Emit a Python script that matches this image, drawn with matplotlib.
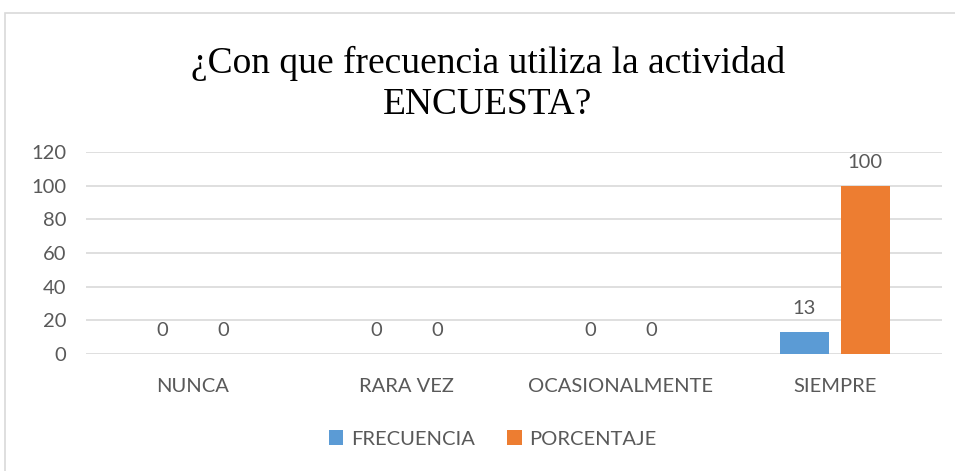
import matplotlib
matplotlib.use('Agg')
import matplotlib.pyplot as plt
from matplotlib.patches import Rectangle
import numpy as np

categorias = ['NUNCA', 'RARA VEZ', 'OCASIONALMENTE', 'SIEMPRE']
frecuencia = [0, 0, 0, 13]
porcentaje = [0, 0, 0, 100]

azul = '#5B9BD5'
naranja = '#ED7D31'
gris = '#595959'
fs = 14.5

plt.rcParams['font.family'] = ['Lato', 'DejaVu Sans']

fig = plt.figure(figsize=(9.55, 4.71), dpi=100)
ax = fig.add_axes([0.090, 0.2484, 0.896, 0.4289])

# marco del grafico
fig.patches.append(Rectangle((5 / 955, -0.1), 1.2, 1.1 - 13 / 471, transform=fig.transFigure,
                             fill=False, edgecolor='#D9D9D9', linewidth=1.2))

x = np.arange(len(categorias))
w = 0.229
off = 0.1425
b1 = ax.bar(x - off, frecuencia, w, color=azul, label='FRECUENCIA', zorder=3)
b2 = ax.bar(x + off, porcentaje, w, color=naranja, label='PORCENTAJE', zorder=3)

for barras in (b1, b2):
    for r in barras:
        h = r.get_height()
        ax.annotate(f'{h:g}', (r.get_x() + r.get_width() / 2, h),
                    xytext=(0, 17), textcoords='offset points',
                    ha='center', va='center', fontsize=fs, color=gris)

ax.set_xlim(-0.5, 3.5)
ax.set_ylim(0, 120)
ax.set_yticks(range(0, 121, 20))
ax.set_xticks(x)
ax.set_xticklabels(categorias)
ax.yaxis.grid(True, color='#D9D9D9', linewidth=1.2, zorder=0)
for s in ax.spines.values():
    s.set_visible(False)
ax.tick_params(axis='both', length=0, labelsize=fs, labelcolor=gris)
ax.tick_params(axis='x', pad=17)
ax.tick_params(axis='y', pad=14)

fig.text(488 / 955, 1 - 84 / 471, '¿Con que frecuencia utiliza la actividad\nENCUESTA?',
         ha='center', va='center', fontsize=27, family='Liberation Serif',
         color='black', linespacing=1.22)

fig.legend(handles=[b1, b2], loc='center', bbox_to_anchor=(493 / 955, 1 - 439 / 471),
           ncol=2, frameon=False, fontsize=fs, labelcolor=gris,
           handlelength=0.7, handleheight=0.7, handletextpad=0.4, columnspacing=1.6)

fig.savefig('out.png', dpi=100)
